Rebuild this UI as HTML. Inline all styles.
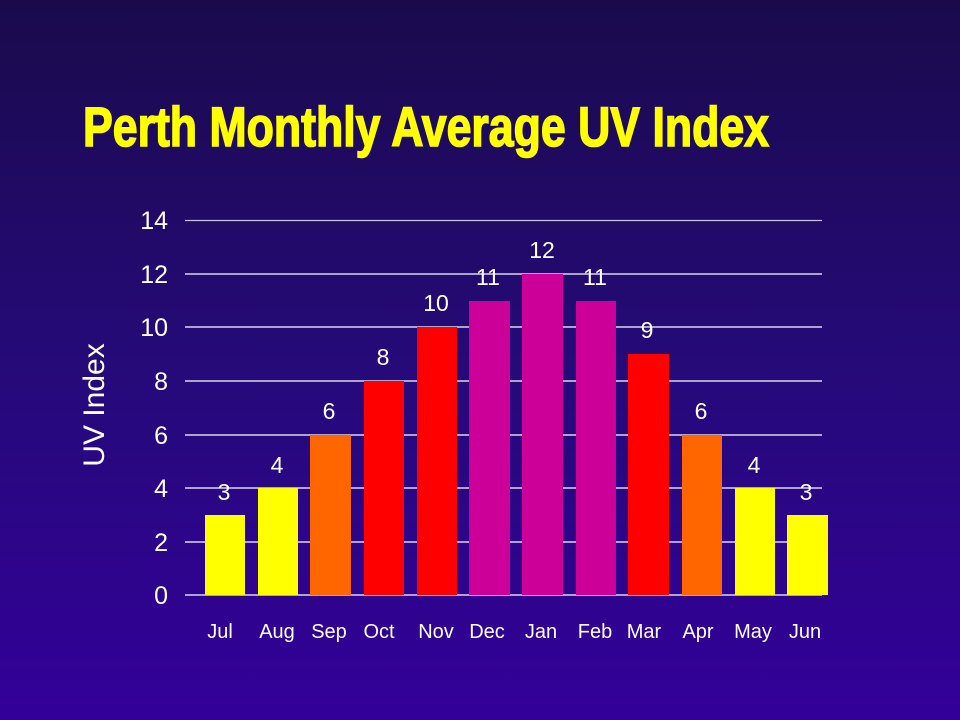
<!DOCTYPE html>
<html><head><meta charset="utf-8"><style>
html,body{margin:0;padding:0;}
body{width:960px;height:720px;overflow:hidden;background:linear-gradient(to bottom,#1a0a4c 0%,#250a78 50%,#330099 100%);}
svg{display:block}
</style></head><body>
<svg width="960" height="720" xmlns="http://www.w3.org/2000/svg" font-family="Liberation Sans, sans-serif">
<text x="83" y="146" fill="#ffff00" stroke="#ffff00" stroke-width="1.6" font-family="Liberation Sans Narrow, Liberation Sans, sans-serif" font-weight="bold" font-size="56" textLength="686" lengthAdjust="spacingAndGlyphs">Perth Monthly Average  UV Index</text>
<g stroke="#ffffff" stroke-width="1.3">
<line x1="185" x2="822" y1="220.5" y2="220.5" stroke="#c8c0e8"/>
<line x1="185" x2="822" y1="274" y2="274"/>
<line x1="185" x2="822" y1="327" y2="327"/>
<line x1="185" x2="822" y1="381" y2="381"/>
<line x1="185" x2="822" y1="435" y2="435"/>
<line x1="185" x2="822" y1="488" y2="488"/>
<line x1="185" x2="822" y1="542" y2="542"/>
<line x1="185" x2="822" y1="595" y2="595"/>
</g>
<g fill="#ffffff" font-size="25" text-anchor="end">
<text x="168" y="229">14</text><text x="168" y="283">12</text><text x="168" y="336">10</text>
<text x="168" y="390">8</text><text x="168" y="444">6</text><text x="168" y="497">4</text>
<text x="168" y="551">2</text><text x="168" y="604">0</text>
</g>
<text transform="translate(104,405) rotate(-90)" fill="#ffffff" font-size="30" text-anchor="middle">UV Index</text>
<g>
<rect x="205" y="515" width="40" height="80" fill="#ffff00"/>
<rect x="258" y="488" width="40" height="107" fill="#ffff00"/>
<rect x="310" y="435" width="41" height="160" fill="#ff6600"/>
<rect x="364" y="381" width="40" height="214" fill="#ff0000"/>
<rect x="417" y="327" width="40" height="268" fill="#ff0000"/>
<rect x="469" y="301" width="41" height="294" fill="#cc0099"/>
<rect x="522" y="274" width="41" height="321" fill="#cc0099"/>
<rect x="576" y="301" width="40" height="294" fill="#cc0099"/>
<rect x="628" y="354" width="41" height="241" fill="#ff0000"/>
<rect x="682" y="435" width="40" height="160" fill="#ff6600"/>
<rect x="735" y="488" width="40" height="107" fill="#ffff00"/>
<rect x="787" y="515" width="41" height="80" fill="#ffff00"/>
</g>
<g fill="#ffffff" font-size="23" text-anchor="middle">
<text x="224" y="500">3</text><text x="277" y="473">4</text><text x="329" y="419">6</text>
<text x="383" y="365">8</text><text x="436" y="311">10</text><text x="488" y="285">11</text>
<text x="542" y="258">12</text><text x="595" y="285">11</text><text x="647" y="338">9</text>
<text x="701" y="419">6</text><text x="754" y="473">4</text><text x="806" y="500">3</text>
</g>
<g fill="#ffffff" font-size="20" text-anchor="middle">
<text x="220" y="638">Jul</text><text x="277" y="638">Aug</text><text x="329" y="638">Sep</text>
<text x="379" y="638">Oct</text><text x="436" y="638">Nov</text><text x="487" y="638">Dec</text>
<text x="541" y="638">Jan</text><text x="595" y="638">Feb</text><text x="644" y="638">Mar</text>
<text x="698" y="638">Apr</text><text x="753" y="638">May</text><text x="805" y="638">Jun</text>
</g>
</svg>
</body></html>
